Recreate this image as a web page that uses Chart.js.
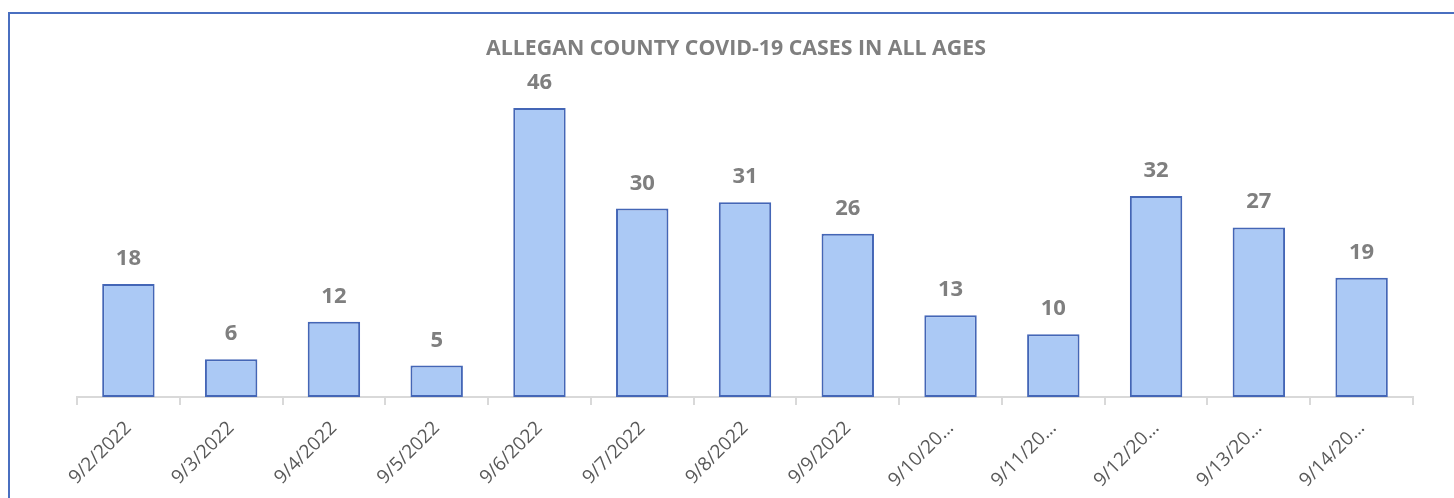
<!DOCTYPE html>
<html>
<head>
<meta charset="utf-8">
<script src="https://cdn.jsdelivr.net/npm/chart.js@4/dist/chart.umd.min.js"></script>
<style>
  html, body { margin: 0; padding: 0; background: #ffffff; overflow: hidden; }
  #wrap { position: relative; width: 1454px; height: 498px; }
  #c { position: absolute; left: 0; top: 0; }
  #frame { position: absolute; left: 8px; top: 12px; width: 2000px; height: 1000px;
           border-left: 2px solid #4a6fc0; border-top: 2px solid #4a6fc0; pointer-events: none; }
</style>
</head>
<body>
<div id="wrap">
  <canvas id="c" width="1454" height="498"></canvas>
  <div id="frame"></div>
</div>
<script>
const titleText = 'ALLEGAN COUNTY COVID-19 CASES IN ALL AGES';
const categories = ['9/2/2022','9/3/2022','9/4/2022','9/5/2022','9/6/2022','9/7/2022','9/8/2022','9/9/2022','9/10/2022','9/11/2022','9/12/2022','9/13/2022','9/14/2022'];
const cases = [18, 6, 12, 5, 46, 30, 31, 26, 13, 10, 32, 27, 19];

const FONT = "'Open Sans', 'Liberation Sans', sans-serif";

const dataLabels = {
  id: 'dataLabels',
  afterDatasetsDraw(chart) {
    const ctx = chart.ctx;
    const meta = chart.getDatasetMeta(0);
    ctx.save();
    ctx.font = "bold 22px " + FONT;
    ctx.fillStyle = '#7f7f7f';
    ctx.textAlign = 'center';
    ctx.textBaseline = 'alphabetic';
    meta.data.forEach((bar, i) => {
      ctx.fillText(String(chart.data.datasets[0].data[i]), bar.x, bar.y - 19);
    });
    ctx.restore();
  }
};

new Chart(document.getElementById('c'), {
  type: 'bar',
  data: {
    labels: categories,
    datasets: [{
      data: cases,
      backgroundColor: '#abc9f5',
      borderColor: '#4466b6',
      borderWidth: 2,
      borderSkipped: false,
      categoryPercentage: 1.0,
      barPercentage: 0.51
    }]
  },
  options: {
    responsive: false,
    animation: false,
    layout: { padding: { left: 59, right: 41, top: 0, bottom: 0 } },
    plugins: {
      legend: { display: false },
      tooltip: { enabled: false },
      title: {
        display: true,
        text: titleText,
        color: '#7f7f7f',
        font: { family: FONT, size: 21.3, weight: 'bold', lineHeight: 1.2 },
        padding: { top: 36.3, bottom: 21.1 }
      }
    },
    scales: {
      x: {
        offset: true,
        grid: { display: true, drawOnChartArea: false, drawTicks: true, tickLength: 8, color: '#d9d9d9', lineWidth: 2, offset: true },
        border: { display: true, color: '#d9d9d9', width: 2 },
        ticks: {
          color: '#595959',
          font: { family: FONT, size: 19 },
          minRotation: 45,
          maxRotation: 45,
          autoSkip: false,
          padding: 12,
          callback: function(value) {
            const s = this.getLabelForValue(value);
            return s.length > 8 ? s.slice(0, 7) + '\u2026' : s;
          }
        },
        afterFit(scale) {
          scale.height = 101;
          scale.paddingLeft = 77;
          scale.paddingRight = 0;
        }
      },
      y: {
        display: false,
        min: 0,
        max: 50
      }
    }
  },
  plugins: [dataLabels]
});
</script>
</body>
</html>
